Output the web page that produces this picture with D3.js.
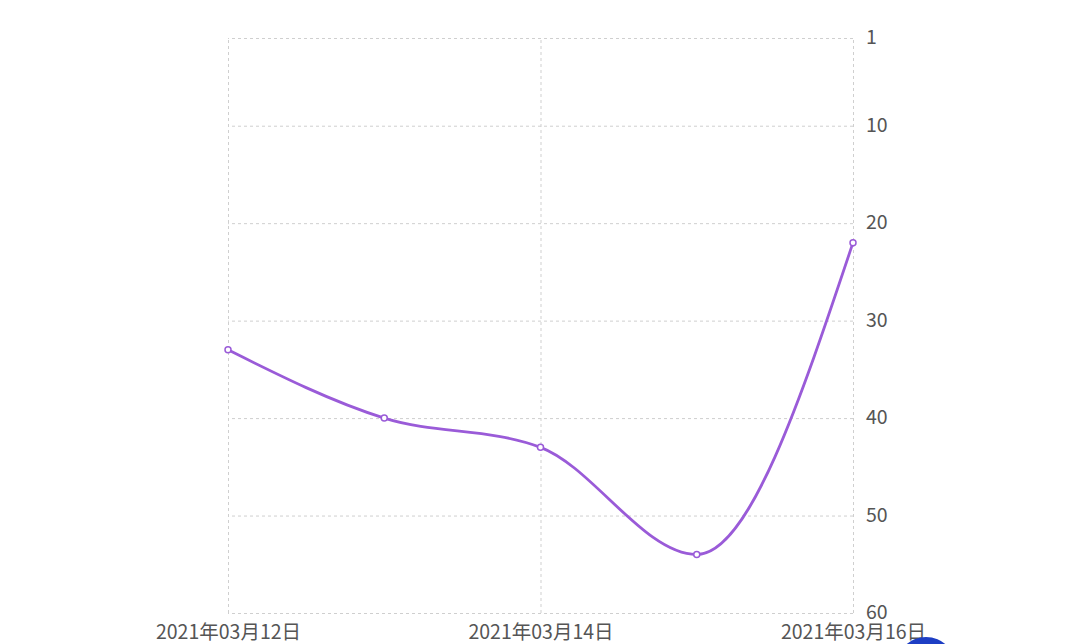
<!DOCTYPE html>
<html>
<head>
<meta charset="utf-8">
<script src="https://cdn.jsdelivr.net/npm/d3@7"></script>
<style>
  body { margin: 0; background: #fff; }
  svg { display: block; }
  text { font-family: "Noto Sans CJK SC", "Noto Sans", sans-serif; fill: #555; }
</style>
</head>
<body>
<div id="chart"></div>
<script>
var dates = ["2021-03-12", "2021-03-13", "2021-03-14", "2021-03-15", "2021-03-16"];
var ranks = [33, 40, 43, 54, 22];
var dateTicks = ["2021-03-12", "2021-03-14", "2021-03-16"];
var rankTicks = [1, 10, 20, 30, 40, 50, 60];

var width = 1080,
    height = 644;
var lineColor = "#9a5bd8",
    gridColor = "#cfcfcf";

var parseDate = d3.timeParse("%Y-%m-%d"),
    formatDate = d3.timeFormat("%Y年%m月%d日");

var entries = dates.map(function(d, i) {
  return { date: parseDate(d), rank: ranks[i] };
});

var svg = d3.select("#chart")
  .append("svg")
    .attr("width", width)
    .attr("height", height);

var x = d3.scaleTime()
  .domain(d3.extent(entries, function(d) { return d.date; }))
  .range([228, 853]);

var y = d3.scaleLinear()
  .domain([1, 60])
  .range([38, 613]);

// horizontal grid + right-side labels
var yAxis = d3.axisRight(y)
  .tickValues(rankTicks)
  .tickSize(-(x.range()[1] - x.range()[0]))
  .tickPadding(13)
  .tickFormat(d3.format("d"));

svg.append("g")
  .attr("class", "y-axis")
  .attr("transform", "translate(" + x.range()[1] + ",0)")
  .call(yAxis)
  .call(function(g) {
    g.select(".domain").remove();
    g.selectAll(".tick line")
      .attr("stroke", gridColor)
      .attr("stroke-dasharray", "3,3");
    g.selectAll(".tick text")
      .attr("font-size", "19.5px")
      .attr("dy", "0.28em")
      .attr("fill", "#555");
  });

// vertical grid + bottom labels
var xAxis = d3.axisBottom(x)
  .tickValues(dateTicks.map(parseDate))
  .tickSize(-(y.range()[1] - y.range()[0]))
  .tickPadding(12)
  .tickFormat(formatDate);

svg.append("g")
  .attr("class", "x-axis")
  .attr("transform", "translate(0," + y.range()[1] + ")")
  .call(xAxis)
  .call(function(g) {
    g.select(".domain").remove();
    g.selectAll(".tick line")
      .attr("stroke", gridColor)
      .attr("stroke-dasharray", "3,3");
    g.selectAll(".tick text")
      .attr("font-size", "19.5px")
      .attr("fill", "#555");
  });

var line = d3.line()
  .x(function(d) { return x(d.date); })
  .y(function(d) { return y(d.rank); })
  .curve(d3.curveMonotoneX);

svg.append("path")
  .datum(entries)
  .attr("fill", "none")
  .attr("stroke", lineColor)
  .attr("stroke-width", 2.8)
  .attr("d", line);

svg.selectAll("circle.point")
  .data(entries)
  .enter()
    .append("circle")
    .attr("class", "point")
    .attr("cx", function(d) { return x(d.date); })
    .attr("cy", function(d) { return y(d.rank); })
    .attr("r", 3)
    .attr("fill", "#fff")
    .attr("stroke", lineColor)
    .attr("stroke-width", 1.5);

// floating button partly off-screen
svg.append("circle")
  .attr("cx", 926)
  .attr("cy", 667)
  .attr("r", 30)
  .attr("fill", "#1d3ec4");
</script>
</body>
</html>
